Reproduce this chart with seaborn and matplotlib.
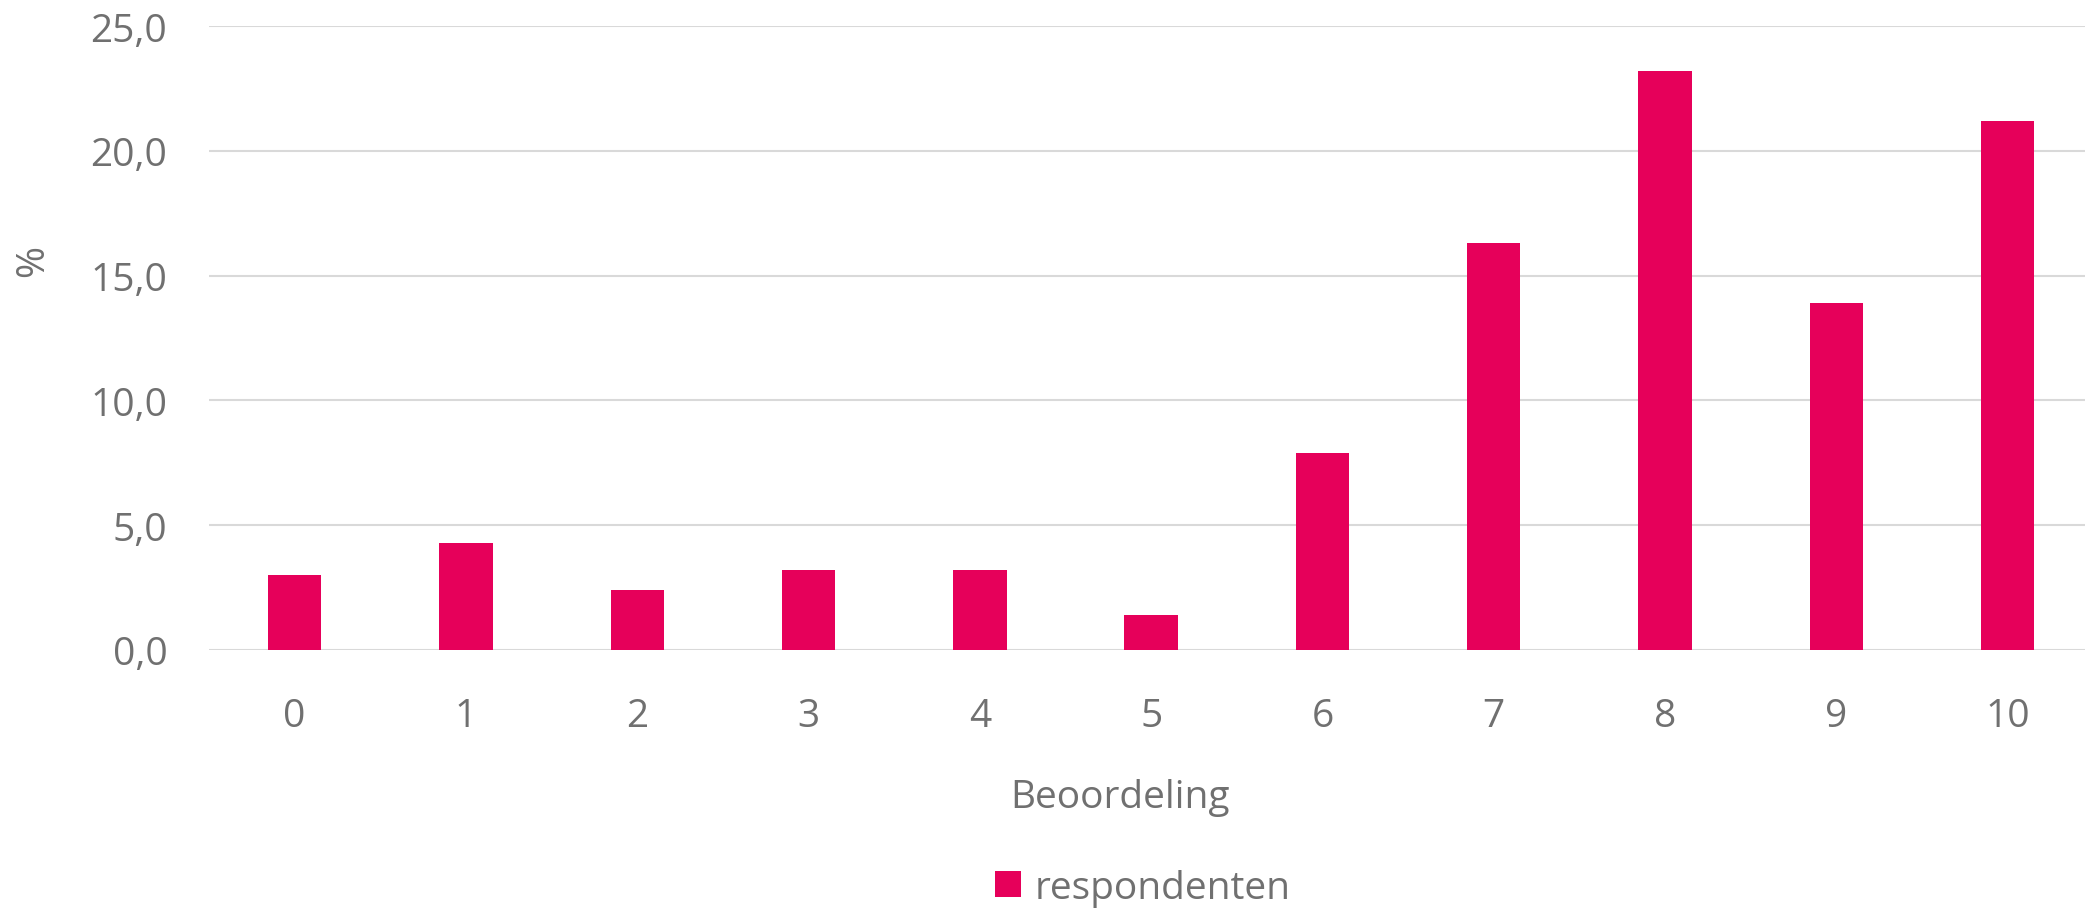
import matplotlib
matplotlib.use("Agg")
import matplotlib.pyplot as plt
from matplotlib.ticker import FuncFormatter
import seaborn as sns
import pandas as pd

# Data
categories = ["0", "1", "2", "3", "4", "5", "6", "7", "8", "9", "10"]
respondenten = [3.0, 4.3, 2.4, 3.2, 3.2, 1.4, 7.9, 16.3, 23.2, 13.9, 21.2]
y_ticks = [0, 5, 10, 15, 20, 25]
series_name = "respondenten"
x_title = "Beoordeling"
y_title = "%"

BAR = "#E6005A"
TXT = "#707070"
GRID = "#D9D9D9"

sns.set_theme(style="white")
plt.rcParams["font.family"] = ["Open Sans", "DejaVu Sans"]

fig = plt.figure(figsize=(20.85, 9.12), dpi=100)
W, H = 2085, 912
left, right, bottom_px, top_px = 209, 2085, 651, 27.2
ax = fig.add_axes([left / W, 1 - bottom_px / H, (right - left) / W, (bottom_px - top_px) / H])

df = pd.DataFrame({"cat": categories, "val": respondenten})
sns.barplot(data=df, x="cat", y="val", order=categories, color=BAR, width=0.312,
            saturation=1, label=series_name, ax=ax, linewidth=0)

spacing = 171.3
ax.set_xlim(-0.5, -0.5 + (right - left) / spacing)
ax.set_ylim(0, 25)
ax.set_yticks(y_ticks)
ax.yaxis.set_major_formatter(FuncFormatter(lambda v, p: f"{v:.1f}".replace(".", ",")))

for s in ax.spines.values():
    s.set_visible(False)
ax.grid(axis="y", color=GRID, linewidth=1.5)
ax.grid(axis="x", visible=False)
ax.set_axisbelow(True)

fs = 28
ax.tick_params(axis="both", length=0, labelsize=fs, labelcolor=TXT)
ax.tick_params(axis="y", pad=30)
ax.tick_params(axis="x", pad=34)

ax.set_xlabel(x_title, fontsize=fs, color=TXT)
ax.xaxis.set_label_coords((1120 - left) / (right - left), (bottom_px - 798) / (bottom_px - top_px))
ax.xaxis.label.set_verticalalignment("center")

ax.set_ylabel(y_title, fontsize=fs, color=TXT, rotation=90)
ax.yaxis.set_label_coords((33 - left) / (right - left), (bottom_px - 261) / (bottom_px - top_px))
ax.yaxis.label.set_verticalalignment("center")
ax.yaxis.label.set_horizontalalignment("center")

leg = ax.legend(loc="center", bbox_to_anchor=(1143 / W, 1 - 889 / H),
                bbox_transform=fig.transFigure, frameon=False, fontsize=fs,
                handlelength=0.66, handleheight=0.66, handletextpad=0.35)
for t in leg.get_texts():
    t.set_color(TXT)

fig.savefig("out.png", dpi=100)
